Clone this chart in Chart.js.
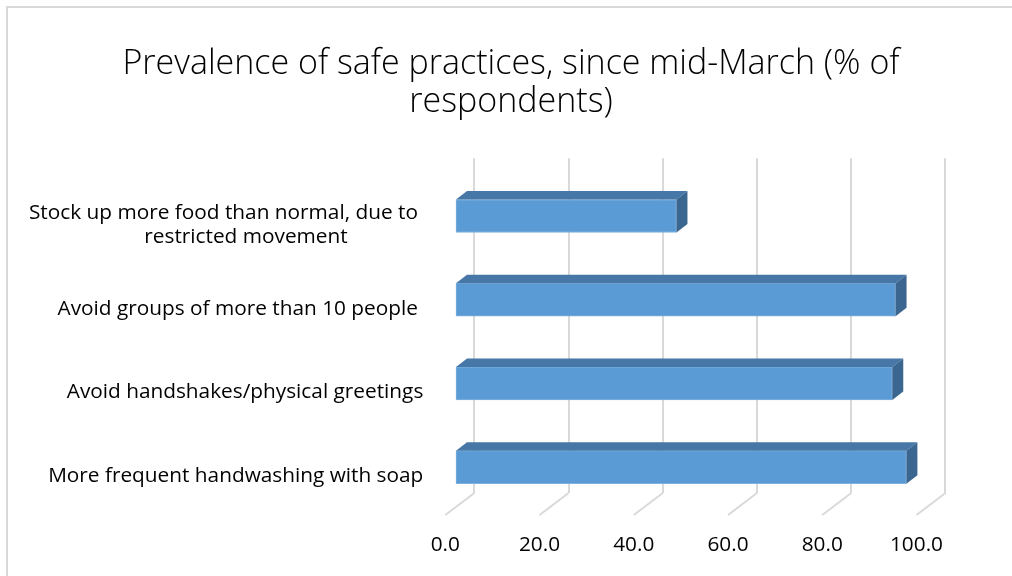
<!DOCTYPE html>
<html>
<head>
<meta charset="utf-8">
<script src="https://cdn.jsdelivr.net/npm/chart.js@4/dist/chart.umd.min.js"></script>
<style>
    html, body { margin: 0; padding: 0; background: #fff; }
    #wrap { width: 1012px; height: 576px; }
</style>
</head>
<body>
<div id="wrap"><canvas id="practiceChart" width="1012" height="576"></canvas></div>
<script>
// Prevalence of safe practices (% of respondents)
const categories = [
    ['Stock up more food than normal, due to ', 'restricted movement              '],
    'Avoid groups of more than 10 people ',
    'Avoid handshakes/physical greetings',
    'More frequent handwashing with soap'
];
const shares = [47.0, 93.5, 92.8, 95.8];
const xTicks = [0, 20, 40, 60, 80, 100];

const FONT = '"Open Sans", "Noto Sans", sans-serif';
const DEPTH_X = 11, DEPTH_Y = 8.5;    // bar depth (top/side faces)
const SHIFT_X = -19.3, SHIFT_Y = 16;  // bars sit in front of the back wall
const FLOOR_X = -29, FLOOR_Y = 22;    // floor diagonal under each gridline

// 3d look: shift the bars forward, add top and side faces, draw the floor ticks
const bars3d = {
    id: 'bars3d',
    beforeDraw(chart) {
        const ctx = chart.ctx;
        ctx.save();
        ctx.strokeStyle = '#d9d9d9';
        ctx.lineWidth = 2;
        ctx.strokeRect(7, 7, 1100, 700);
        ctx.restore();
    },
    beforeDatasetsDraw(chart) {
        chart.ctx.save();
        chart.ctx.translate(SHIFT_X, SHIFT_Y);
    },
    afterDatasetsDraw(chart) {
        const ctx = chart.ctx;
        chart.getDatasetMeta(0).data.forEach(bar => {
            const left = Math.min(bar.x, bar.base);
            const right = Math.max(bar.x, bar.base);
            const top = bar.y - bar.height / 2;
            const bottom = bar.y + bar.height / 2;
            ctx.fillStyle = '#4677a6';
            ctx.beginPath();
            ctx.moveTo(left, top);
            ctx.lineTo(left + DEPTH_X, top - DEPTH_Y);
            ctx.lineTo(right + DEPTH_X, top - DEPTH_Y);
            ctx.lineTo(right, top);
            ctx.closePath();
            ctx.fill();
            ctx.fillStyle = '#3b6690';
            ctx.beginPath();
            ctx.moveTo(right, top);
            ctx.lineTo(right + DEPTH_X, top - DEPTH_Y);
            ctx.lineTo(right + DEPTH_X, bottom - DEPTH_Y);
            ctx.lineTo(right, bottom);
            ctx.closePath();
            ctx.fill();
        });
        ctx.restore();

        // floor lines
        const xs = chart.scales.x;
        const bottomY = chart.chartArea.bottom;
        ctx.save();
        ctx.strokeStyle = '#d9d9d9';
        ctx.lineWidth = 2;
        xTicks.forEach(v => {
            const px = xs.getPixelForValue(v);
            ctx.beginPath();
            ctx.moveTo(px, bottomY);
            ctx.lineTo(px + FLOOR_X, bottomY + FLOOR_Y);
            ctx.stroke();
        });
        ctx.restore();
    }
};

new Chart(document.getElementById('practiceChart'), {
    type: 'bar',
    data: {
        labels: categories,
        datasets: [{
            data: shares,
            backgroundColor: '#5b9bd5',
            borderColor: '#7eb0de',
            borderWidth: 1,
            borderSkipped: false,
            barThickness: 33
        }]
    },
    options: {
        indexAxis: 'y',
        responsive: false,
        animation: false,
        layout: { padding: { left: 10, right: 0, top: 0, bottom: 0 } },
        plugins: {
            legend: { display: false },
            tooltip: { enabled: false },
            title: {
                display: true,
                text: ['Prevalence of safe practices, since mid-March (% of', 'respondents)'],
                color: '#000',
                font: { family: FONT, size: 34, weight: 300, lineHeight: 1.12 },
                padding: { top: 45, bottom: 37 }
            }
        },
        scales: {
            x: {
                min: 0,
                max: 100,
                afterBuildTicks: scale => { scale.ticks = xTicks.map(v => ({ value: v })); },
                afterFit: scale => { scale.height = 83; },
                grid: { color: '#d9d9d9', lineWidth: 2, drawTicks: false },
                border: { display: false },
                ticks: {
                    color: '#000',
                    font: { family: FONT, size: 20.8 },
                    padding: 40,
                    labelOffset: FLOOR_X,
                    maxRotation: 0,
                    callback: v => v.toFixed(1)
                }
            },
            y: {
                afterFit: scale => { scale.width = 474.3 - 10; },
                grid: { display: false, drawTicks: false },
                border: { display: false },
                ticks: {
                    color: '#000',
                    font: { family: FONT, size: 20.8, lineHeight: 1.16 },
                    padding: 51,
                    labelOffset: FLOOR_Y + 3
                }
            },
            // empty right-hand axis keeps the plot clear of the right edge
            yRight: {
                type: 'category',
                position: 'right',
                display: true,
                afterFit: scale => { scale.width = 65; },
                grid: { display: false, drawTicks: false },
                border: { display: false },
                ticks: { display: false }
            }
        }
    },
    plugins: [bars3d]
});
</script>
</body>
</html>
